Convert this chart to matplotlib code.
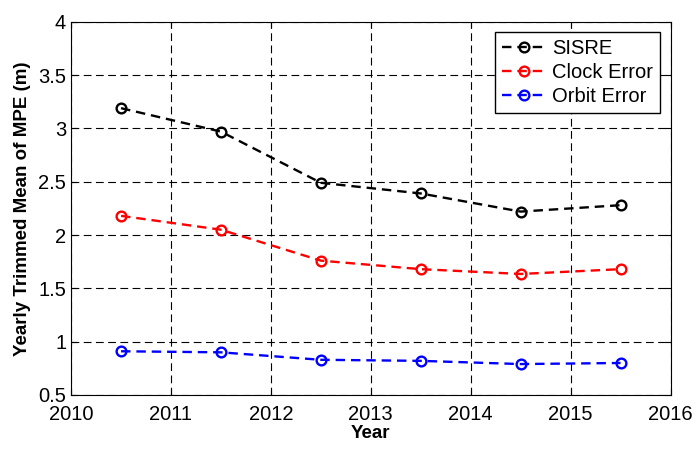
import numpy as np
import matplotlib
matplotlib.use('Agg')
import matplotlib.pyplot as plt
from matplotlib.ticker import FormatStrFormatter

#-------------------------------------
#-- Data
#-------------------------------------
years = [2010.5, 2011.5, 2012.5, 2013.5, 2014.5, 2015.5]
sisre = [3.19, 2.97, 2.49, 2.39, 2.22, 2.28]
clock_err = [2.18, 2.05, 1.76, 1.68, 1.635, 1.68]
orbit_err = [0.91, 0.90, 0.83, 0.82, 0.79, 0.80]

x_ticks = [2010, 2011, 2012, 2013, 2014, 2015, 2016]
y_ticks = [0.5, 1, 1.5, 2, 2.5, 3, 3.5, 4]

plt.rcParams['font.family'] = ['Liberation Sans', 'DejaVu Sans']
plt.rcParams['font.size'] = 14

#------------------------
# Figure and axes
#------------------------
fig = plt.figure(figsize=(6.97, 4.54), dpi=100)
ax = fig.add_axes([0.102, 0.130, 0.860, 0.822])

style = dict(linestyle='--', linewidth=1.7, marker='o', markersize=7,
             markerfacecolor='none', markeredgewidth=1.7, dashes=(4, 2.5))
ax.plot(years, sisre, color='black', label='SISRE', **style)
ax.plot(years, clock_err, color='red', label='Clock Error', **style)
ax.plot(years, orbit_err, color='blue', label='Orbit Error', **style)

ax.set_xlim(2010, 2016)
ax.set_ylim(0.5, 4)
ax.set_xticks(x_ticks)
ax.set_yticks(y_ticks)
ax.yaxis.set_major_formatter(FormatStrFormatter('%g'))
ax.tick_params(direction='in', top=True, right=True, length=4, width=0.8,
               labelsize=14.5)
ax.tick_params(axis='x', pad=7)
ax.grid(True, color='black', linestyle=(0, (7, 4)), linewidth=0.8)
for s in ax.spines.values():
    s.set_linewidth(0.8)

ax.set_xlabel('Year', fontweight='bold', fontsize=13.5, labelpad=1)
ax.set_ylabel('Yearly Trimmed Mean of MPE (m)', fontweight='bold',
              fontsize=13.5, labelpad=5)

leg = ax.legend(loc='upper right', fontsize=14.5, fancybox=False,
                edgecolor='black', framealpha=1, handlelength=2.2,
                borderaxespad=0.5, handletextpad=0.3, labelspacing=0.25,
                borderpad=0.35)
leg.get_frame().set_linewidth(1.0)

fig.savefig('out.png', dpi=100)
